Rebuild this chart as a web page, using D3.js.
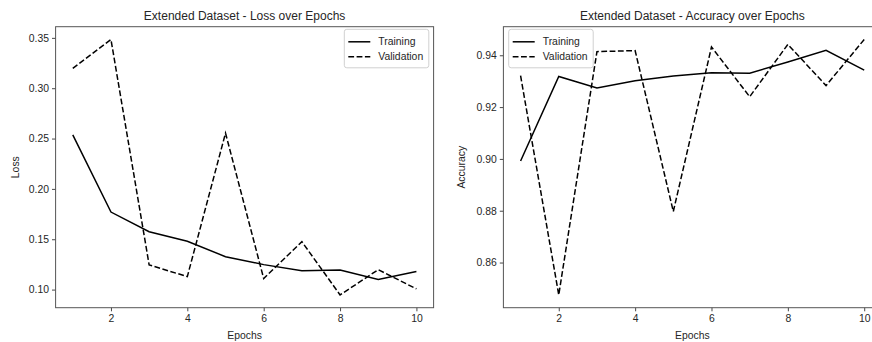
<!DOCTYPE html>
<html>
<head>
<meta charset="utf-8">
<script src="https://cdn.jsdelivr.net/npm/d3@7"></script>
<style>
  body { margin: 0; background: #fff; }
  svg { display: block; font-family: "Liberation Sans", Arial, sans-serif; }
</style>
</head>
<body>
<div id="main"></div>
<script>
// data
var epochs = [1, 2, 3, 4, 5, 6, 7, 8, 9, 10];
var lossTrain = [0.2537, 0.177, 0.1575, 0.148, 0.1327, 0.1248, 0.1188, 0.1195, 0.110, 0.118];
var lossVal = [0.3196, 0.3484, 0.1245, 0.1129, 0.2554, 0.111, 0.1476, 0.0947, 0.1198, 0.1007];
var accTrain = [0.8992, 0.9318, 0.9274, 0.9302, 0.932, 0.9333, 0.9331, 0.9374, 0.9419, 0.9343];
var accVal = [0.9321, 0.8475, 0.9414, 0.9418, 0.8797, 0.9432, 0.924, 0.9442, 0.9283, 0.9461];
var xTicks = [2, 4, 6, 8, 10];
var lossTicks = [0.10, 0.15, 0.20, 0.25, 0.30, 0.35];
var accTicks = [0.86, 0.88, 0.90, 0.92, 0.94];

var W = 872, H = 342;
var svg = d3.select("#main").append("svg")
    .attr("width", W)
    .attr("height", H);

// padded domain like matplotlib (5% margins)
function pad(vals) {
    var lo = d3.min(vals), hi = d3.max(vals), m = (hi - lo) * 0.05;
    return [lo - m, hi + m];
}

function panel(opt) {
    var left = opt.left, top = 26.7, w = 378, h = 281;
    var g = svg.append("g").attr("transform", "translate(" + left + "," + top + ")");

    var x = d3.scaleLinear().domain([0.55, 10.45]).range([0, w]);
    var y = d3.scaleLinear().domain(pad(opt.train.concat(opt.val))).range([h, 0]);

    // x axis
    var xa = g.append("g").attr("transform", "translate(0," + h + ")")
        .call(d3.axisBottom(x).tickValues(xTicks).tickSize(3.6).tickPadding(3).tickFormat(d3.format("d")));
    // y axis
    var ya = g.append("g")
        .call(d3.axisLeft(y).tickValues(opt.ticks).tickSize(3.6).tickPadding(3).tickFormat(d3.format(".2f")));
    [xa, ya].forEach(function(a) {
        a.select(".domain").remove();
        a.selectAll("line").attr("stroke", "#333").attr("stroke-width", 0.9);
        a.selectAll("text").attr("fill", "#262626").style("font-size", "10.4px");
    });

    // frame
    g.append("rect")
        .attr("width", w).attr("height", h)
        .attr("fill", "none").attr("stroke", "#555").attr("stroke-width", 1);

    var line = d3.line()
        .x(function(d, i) { return x(epochs[i]); })
        .y(function(d) { return y(d); });

    g.append("path").datum(opt.train)
        .attr("d", line).attr("fill", "none")
        .attr("stroke", "#000").attr("stroke-width", 1.5);
    g.append("path").datum(opt.val)
        .attr("d", line).attr("fill", "none")
        .attr("stroke", "#000").attr("stroke-width", 1.5)
        .attr("stroke-dasharray", "5.8,2.5");

    // title and labels
    g.append("text")
        .attr("x", w / 2).attr("y", -6.5)
        .attr("text-anchor", "middle")
        .attr("fill", "#262626")
        .style("font-size", "12px")
        .text(opt.title);
    g.append("text")
        .attr("x", w / 2).attr("y", h + 31.5)
        .attr("text-anchor", "middle")
        .attr("fill", "#262626")
        .style("font-size", "10.4px")
        .text("Epochs");
    g.append("text")
        .attr("transform", "translate(" + opt.ylabX + "," + (h / 2) + ") rotate(-90)")
        .attr("text-anchor", "middle")
        .attr("fill", "#262626")
        .style("font-size", "10.4px")
        .text(opt.ylabel);

    // legend
    var lg = g.append("g").attr("transform", "translate(" + opt.legX + ",2.6)");
    lg.append("rect")
        .attr("width", 84.5).attr("height", 38.5).attr("rx", 2.5)
        .attr("fill", "#fff").attr("fill-opacity", 0.8)
        .attr("stroke", "#d0d0d0").attr("stroke-width", 1);
    var items = [{name: "Training", dash: null}, {name: "Validation", dash: "5.8,2.5"}];
    items.forEach(function(it, i) {
        var yy = 12.5 + i * 15;
        lg.append("line")
            .attr("x1", 4).attr("x2", 26).attr("y1", yy).attr("y2", yy)
            .attr("stroke", "#000").attr("stroke-width", 1.5)
            .attr("stroke-dasharray", it.dash);
        lg.append("text")
            .attr("x", 34).attr("y", yy + 3.7)
            .attr("fill", "#262626")
            .style("font-size", "10.4px")
            .text(it.name);
    });
}

panel({left: 55.6, train: lossTrain, val: lossVal, ticks: lossTicks,
       title: "Extended Dataset - Loss over Epochs", ylabel: "Loss", ylabX: -37, legX: 288.7});
panel({left: 503.4, train: accTrain, val: accVal, ticks: accTicks,
       title: "Extended Dataset - Accuracy over Epochs", ylabel: "Accuracy", ylabX: -38.5, legX: 5.3});
</script>
</body>
</html>
